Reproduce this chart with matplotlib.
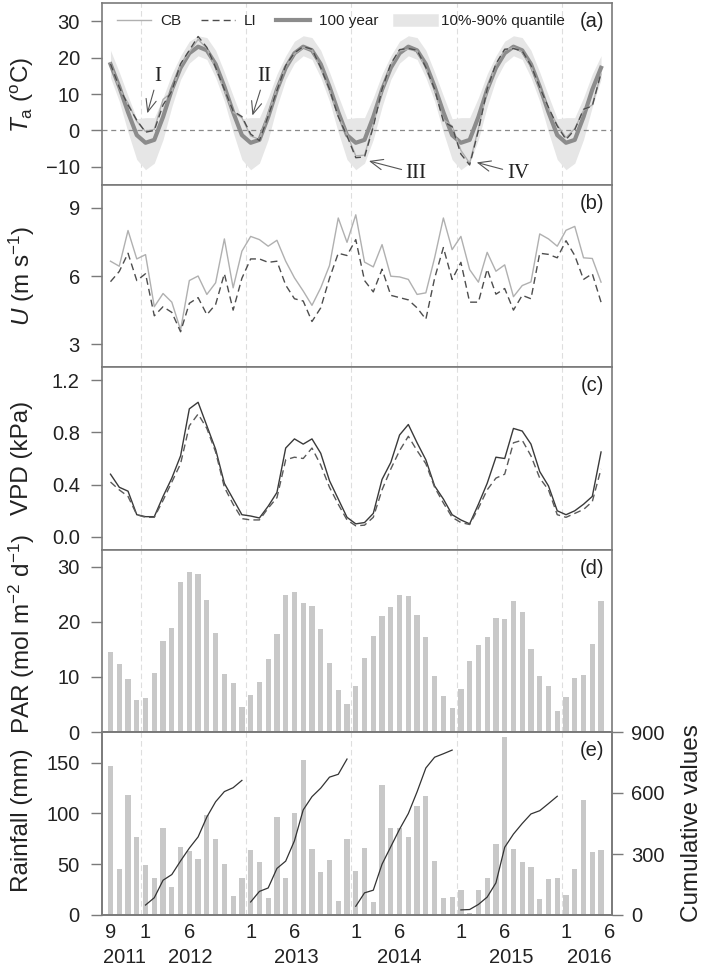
import matplotlib.pyplot as plt
import numpy as np
from matplotlib.lines import Line2D

plt.rcParams['font.family'] = ['Liberation Sans', 'DejaVu Sans']
plt.rcParams['mathtext.fontset'] = 'custom'
plt.rcParams['mathtext.rm'] = 'Liberation Sans'
plt.rcParams['mathtext.it'] = 'Liberation Sans:italic'

# months: Sep 2011 ... May 2016
months = np.arange(57)
month_ticks = [0, 4, 9, 16, 21, 28, 33, 40, 45, 52, 57]
month_labels = ['9', '1', '6', '1', '6', '1', '6', '1', '6', '1', '6']
year_pos = [1.65, 9.1, 21.2, 33.0, 45.7, 54.7]
year_labels = ['2011', '2012', '2013', '2014', '2015', '2016']
year_breaks = [3.5, 15.5, 27.5, 39.5, 51.5]

# 100-year climatology (Jan..Dec)
clim_mean = [-3.4, -2.6, 3.7, 11.2, 17.2, 21.2, 23.0, 22.0, 18.2, 12.0, 5.0, -1.3]
clim_q10 = [-10.8, -9.0, -2.5, 6.5, 14.0, 18.5, 20.5, 19.5, 14.5, 8.0, -0.5, -8.0]
clim_q90 = [3.5, 3.5, 9.0, 15.5, 20.5, 24.5, 26.0, 25.5, 22.0, 16.0, 9.5, 3.2]

ta_cb = [18.5, 11.5, 7.5, 2.5, -0.3, 0.3, 8.5, 10.5, 18.0, 21.5, 25.0, 22.5,
         17.0, 11.0, 5.0, 3.5, -1.5, -2.5, 4.5, 11.5, 17.5, 21.0, 22.8, 22.0,
         17.0, 11.0, 4.0, -1.0, -7.0, -6.8, 1.5, 11.0, 18.0, 21.8, 22.3, 21.8,
         17.0, 11.0, 3.0, 1.2, -5.5, -9.0, 0.5, 11.0, 18.0, 22.0, 22.8, 21.5,
         17.5, 11.5, 6.0, 1.5, -2.0, 0.5, 5.5, 7.0, 15.5]
ta_li = [18.3, 11.8, 7.0, 2.8, -0.5, 0.0, 7.0, 10.8, 18.3, 22.0, 25.8, 22.8,
         17.3, 11.2, 5.3, 3.8, -1.0, -2.8, 4.0, 11.0, 17.8, 21.3, 23.0, 22.3,
         17.2, 11.3, 3.8, -1.5, -7.5, -7.3, 1.0, 11.3, 18.3, 22.2, 22.5, 22.0,
         17.3, 11.3, 2.5, 1.0, -6.5, -9.5, 0.0, 11.3, 18.3, 22.3, 22.5, 21.8,
         17.8, 11.8, 6.3, 1.2, -2.5, 0.2, 5.8, 6.7, 15.8]

u_cb = [6.65, 6.43, 8.0, 6.75, 6.94, 4.65, 5.23, 4.85, 3.63, 5.8, 6.0, 5.19,
        5.7, 7.63, 5.48, 7.09, 7.74, 7.6, 7.31, 7.57, 6.65, 5.92, 5.34, 4.71,
        5.48, 6.46, 8.55, 7.48, 8.69, 6.61, 6.4, 7.38, 5.99, 5.96, 5.85, 5.19,
        5.26, 6.8, 8.55, 7.16, 7.74, 6.28, 5.73, 7.04, 6.21, 6.49, 5.09, 5.58,
        5.74, 7.85, 7.63, 7.31, 8.01, 8.18, 6.8, 6.77, 5.73]
u_li = [5.75, 6.2, 7.0, 5.8, 6.1, 4.25, 4.65, 4.4, 3.55, 4.8, 5.05, 4.3,
        4.75, 6.1, 4.5, 5.9, 6.75, 6.75, 6.6, 6.65, 5.6, 5.0, 4.9, 4.0,
        4.6, 5.9, 7.0, 6.9, 7.6, 5.8, 5.3, 6.3, 5.15, 5.05, 4.95, 4.6,
        4.1, 5.9, 7.25, 5.85, 6.6, 4.85, 4.85, 6.3, 5.2, 5.45, 4.5, 5.15,
        5.0, 7.0, 6.95, 6.8, 7.55, 6.9, 5.85, 6.1, 4.85]

vpd_cb = [0.48, 0.38, 0.35, 0.17, 0.155, 0.155, 0.31, 0.45, 0.62, 0.98, 1.03, 0.85,
          0.67, 0.41, 0.29, 0.17, 0.16, 0.145, 0.235, 0.34, 0.68, 0.75, 0.71, 0.75,
          0.64, 0.43, 0.29, 0.15, 0.10, 0.11, 0.18, 0.44, 0.57, 0.78, 0.86, 0.72,
          0.59, 0.39, 0.29, 0.17, 0.13, 0.10, 0.25, 0.41, 0.61, 0.60, 0.83, 0.81,
          0.71, 0.50, 0.39, 0.20, 0.17, 0.20, 0.25, 0.31, 0.65]
vpd_li = [0.42, 0.36, 0.31, 0.17, 0.15, 0.15, 0.28, 0.42, 0.56, 0.85, 0.94, 0.83,
          0.65, 0.38, 0.25, 0.14, 0.13, 0.13, 0.22, 0.30, 0.59, 0.61, 0.60, 0.68,
          0.55, 0.38, 0.25, 0.13, 0.085, 0.09, 0.15, 0.36, 0.52, 0.66, 0.77, 0.66,
          0.56, 0.38, 0.26, 0.15, 0.11, 0.095, 0.22, 0.36, 0.45, 0.48, 0.72, 0.74,
          0.62, 0.45, 0.36, 0.17, 0.15, 0.18, 0.21, 0.27, 0.52]

par = [14.5, 12.3, 9.6, 5.8,
       6.2, 10.7, 16.5, 18.9, 27.2, 29.1, 28.6, 23.9, 17.9, 10.5, 8.8, 4.6,
       6.7, 9.0, 13.3, 17.7, 24.8, 25.4, 23.3, 22.8, 18.6, 12.6, 7.7, 5.0,
       8.4, 13.5, 17.4, 21.0, 22.7, 24.8, 24.7, 21.2, 17.3, 10.1, 6.5, 4.4,
       7.8, 12.8, 15.8, 17.2, 20.6, 20.5, 23.8, 21.8, 15.1, 10.2, 8.4, 3.8,
       6.4, 9.8, 10.3, 16.0, 23.8]

rain = [147, 45, 118, 77,
        49, 36, 86, 28, 67, 63, 55, 98, 75, 50, 19, 36,
        64, 52, 17, 96, 36, 100, 152, 65, 42, 54, 14, 75,
        43, 66, 13, 128, 86, 86, 77, 107, 117, 53, 17, 18,
        25, 2, 25, 36, 70, 175, 65, 52, 47, 16, 35, 36,
        20, 45, 113, 62, 64]
cum_years = [2012, 2013, 2014, 2015]

cal = (months + 8) % 12
years = 2011 + (months + 8) // 12

W, H = 709, 969
fig = plt.figure(figsize=(W / 100, H / 100), dpi=100)
edges = [3, 185, 367, 550, 732, 915]
spine_c = '#7a7a7a'
txt_c = '#222222'
axes = []
for k in range(5):
    ax = fig.add_axes([102 / W, 1 - edges[k + 1] / H, 510 / W, (edges[k + 1] - edges[k]) / H])
    for s in ax.spines.values():
        s.set_color(spine_c)
        s.set_linewidth(1.2)
    ax.tick_params(axis='y', direction='out', length=8, width=1, color=spine_c,
                   pad=8, labelsize=14.5, labelcolor=txt_c)
    ax.tick_params(axis='x', length=0, labelbottom=False)
    ax.set_xlim(-0.97, 57.25)
    for v in year_breaks:
        ax.axvline(v, color='#dedede', ls=(0, (5, 3)), lw=0.8, zorder=0)
    axes.append(ax)
ax1, ax2, ax3, ax4, ax5 = axes

# (a) air temperature
mean = np.array(clim_mean)[cal]
q10 = np.array(clim_q10)[cal]
q90 = np.array(clim_q90)[cal]
ax1.fill_between(months, q10, q90, color='#e6e6e6', lw=0, zorder=1)
ax1.axhline(0, color='#8a8a8a', ls=(0, (4, 3)), lw=0.9, zorder=1.5)
ax1.plot(months, mean, color='#8c8c8c', lw=3, zorder=2)
ax1.plot(months, ta_cb, color='#b0b0b0', lw=1, zorder=3)
ax1.plot(months, ta_li, color='#4d4d4d', lw=1, ls=(0, (5, 3)), zorder=3)
ax1.set_ylim(-15, 35)
ax1.set_yticks([-10, 0, 10, 20, 30])

arrow = dict(arrowstyle='->,head_length=0.6,head_width=0.25', color='#555555', lw=0.8,
             shrinkA=1, shrinkB=0)
for lab, tip, pos in [('I', (4.2, 4.7), (5.4, 14.8)), ('II', (16.2, 4.1), (17.6, 14.8)),
                      ('III', (29.5, -8.4), (34.9, -11.8)), ('IV', (41.8, -8.8), (46.5, -11.8))]:
    ax1.annotate(lab, xy=tip, xytext=pos, ha='center', va='center', fontsize=15,
                 family='Liberation Serif', color=txt_c, arrowprops=arrow, zorder=5)

handles = [Line2D([], [], color='#b0b0b0', lw=1),
           Line2D([], [], color='#4d4d4d', lw=1, ls=(0, (5, 3))),
           Line2D([], [], color='#8c8c8c', lw=3),
           Line2D([], [], color='#e6e6e6', lw=9)]
leg = ax1.legend(handles, ['CB', 'LI', '100 year', '10%-90% quantile'], ncol=4,
                 loc='center left', bbox_to_anchor=(0.03, 0.90), frameon=False,
                 fontsize=11, handlelength=2.2, handletextpad=0.6, columnspacing=1.3,
                 borderpad=0, borderaxespad=0)
for t in leg.get_texts():
    t.set_color(txt_c)

# (b) wind speed
ax2.plot(months, u_cb, color='#b0b0b0', lw=1)
ax2.plot(months, u_li, color='#4d4d4d', lw=1, ls=(0, (5, 3)))
ax2.set_ylim(2, 10)
ax2.set_yticks([3, 6, 9])

# (c) VPD
ax3.plot(months, vpd_cb, color='#3a3a3a', lw=1)
ax3.plot(months, vpd_li, color='#5a5a5a', lw=1, ls=(0, (5, 3)))
ax3.set_ylim(-0.1, 1.3)
ax3.set_yticks([0.0, 0.4, 0.8, 1.2])
ax3.set_yticklabels(['0.0', '0.4', '0.8', '1.2'])

# (d) PAR
ax4.bar(months, par, width=0.6, color='#c8c8c8', zorder=1)
ax4.set_ylim(0, 33)
ax4.set_yticks([0, 10, 20, 30])

# (e) rainfall
ax5.bar(months, rain, width=0.6, color='#c8c8c8', zorder=1)
ax5.set_ylim(0, 180)
ax5.set_yticks([0, 50, 100, 150])
ax5r = ax5.twinx()
rain_arr = np.array(rain)
for y in cum_years:
    idx = months[years == y]
    ax5r.plot(idx, np.cumsum(rain_arr[idx]), color='#333333', lw=0.9)
ax5r.set_ylim(0, 900)
ax5r.set_yticks([0, 300, 600, 900])
for s in ax5r.spines.values():
    s.set_color(spine_c)
    s.set_linewidth(1.2)
ax5r.tick_params(axis='y', direction='out', length=8, width=1, color=spine_c,
                 pad=6, labelsize=14.5, labelcolor=txt_c)

ax5.xaxis.remove_overlapping_locs = False
ax5.set_xticks(month_ticks, month_labels)
ax5.set_xticks(year_pos, year_labels, minor=True)
ax5.tick_params(axis='x', which='major', length=0, labelbottom=True, pad=6,
                labelsize=14.5, labelcolor=txt_c)
ax5.tick_params(axis='x', which='minor', length=0, labelbottom=True, pad=24,
                labelsize=14.5, labelcolor=txt_c)

for ax, lab in zip(axes, ['(a)', '(b)', '(c)', '(d)', '(e)']):
    ax.text(0.985, 0.9, lab, transform=ax.transAxes, ha='right', va='center',
            fontsize=14.5, color=txt_c, zorder=6)

ylabels = [r'$\mathit{T}_{\mathrm{a}}$ ($^{\mathrm{o}}$C)',
           r'$\mathit{U}$ (m s$^{-1}$)',
           'VPD (kPa)',
           r'PAR (mol m$^{-2}$ d$^{-1}$)',
           'Rainfall (mm)']
label_y = [95, 276, 458, 634, 820]
for lab, yc in zip(ylabels, label_y):
    fig.text(22 / W, 1 - yc / H, lab, rotation=90, ha='center', va='center',
             fontsize=17.5, color=txt_c)
fig.text(692 / W, 1 - 823 / H, 'Cumulative values', rotation=90,
         ha='center', va='center', fontsize=17.5, color=txt_c)

fig.savefig('out.png', dpi=100)
